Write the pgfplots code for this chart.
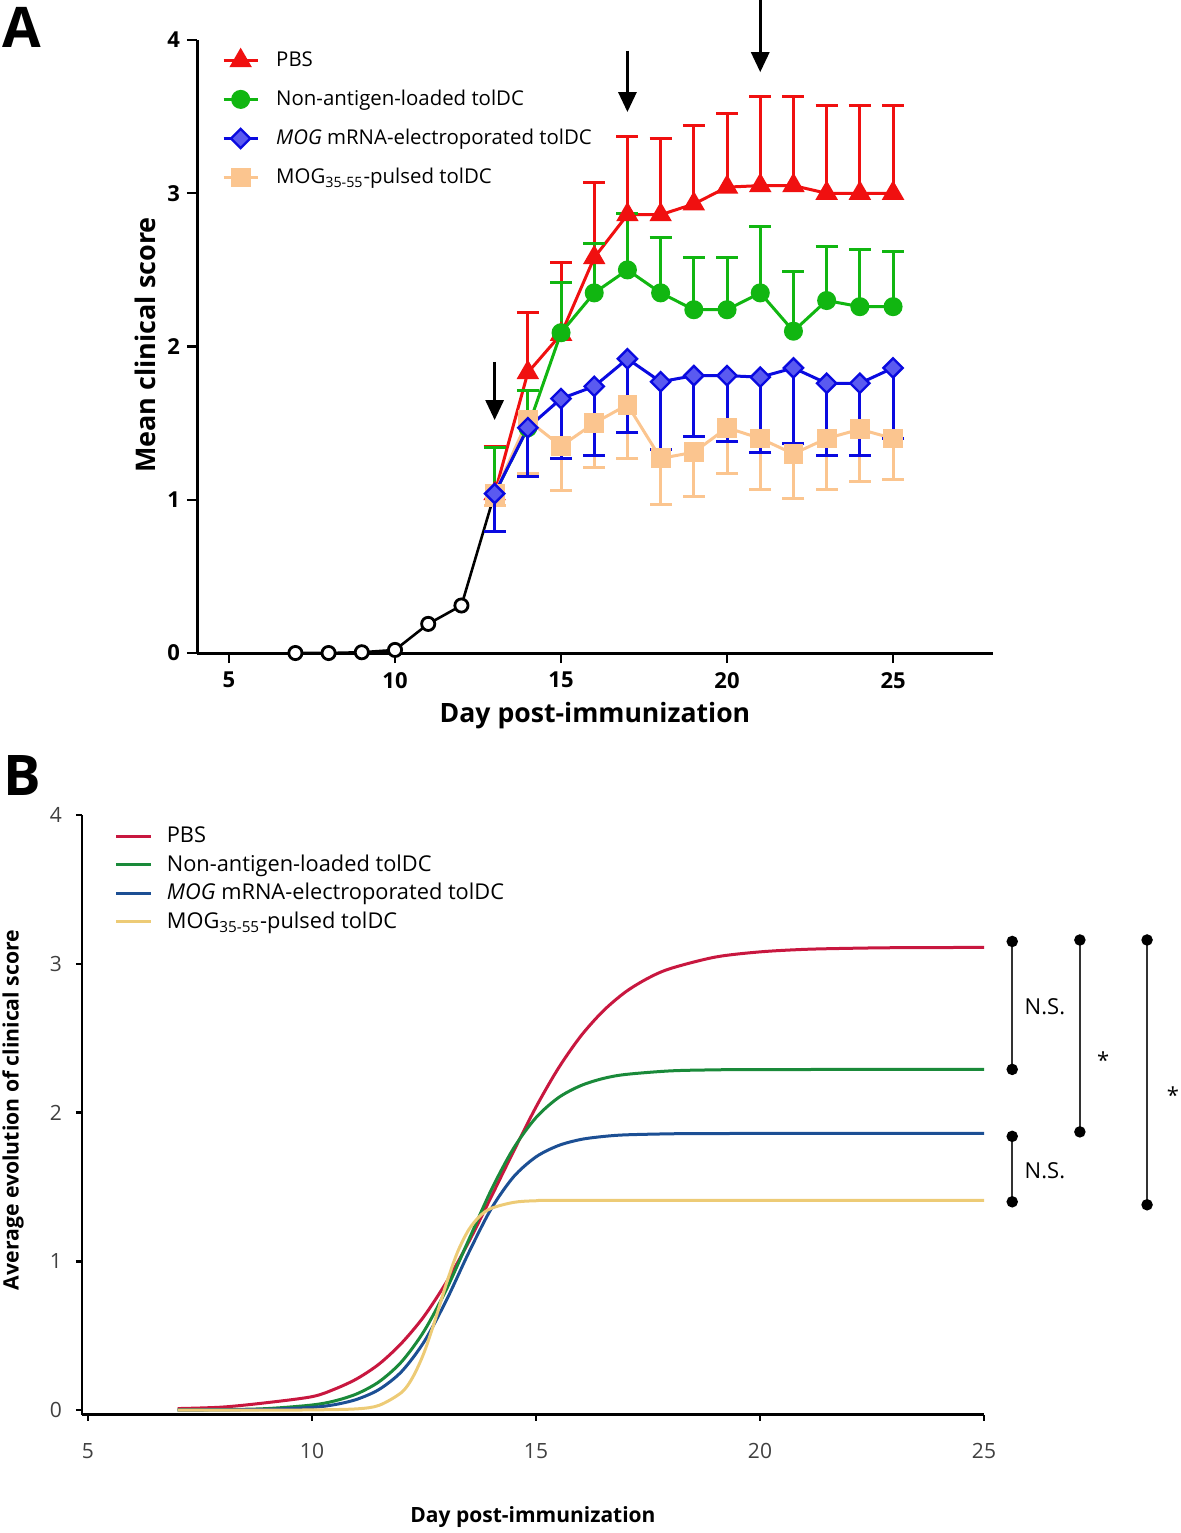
\documentclass[border=0pt]{standalone}
\usepackage{pgfplots}
\pgfplotsset{compat=1.18}
\usepackage{fontspec}
\setmainfont{Open Sans}
\usetikzlibrary{arrows.meta}
\definecolor{Ared}{HTML}{F01010}
\definecolor{Agreen}{HTML}{11B611}
\definecolor{Ablue}{HTML}{0A0AE0}
\definecolor{AblueL}{HTML}{5A5AF0}
\definecolor{Aorange}{HTML}{FBC58F}
\definecolor{Bred}{HTML}{C8173F}
\definecolor{Bgreen}{HTML}{1A8A3A}
\definecolor{Bblue}{HTML}{1C4F94}
\definecolor{Byellow}{HTML}{EDCB76}
\begin{document}
\begin{tikzpicture}
\useasboundingbox (0,0) rectangle (590.5pt,-766.5pt);
% ---------------- Panel A ----------------
\node[font=\bfseries\fontsize{28}{30}\selectfont] at (11pt,-13.5pt) {A};
\begin{axis}[
  at={(98.5pt,-326.5pt)}, anchor=south west,
  scale only axis, width=398pt, height=306.5pt,
  xmin=4.036, xmax=28.01, ymin=0, ymax=4,
  axis lines=left, axis line style={-, line width=1.5pt},
  xtick={5,10,15,20,25}, ytick={0,1,2,3,4},
  tick align=outside, major tick length=5pt,
  tick style={line width=1.2pt, black},
  /pgf/number format/assume math mode=true,
  ticklabel style={font=\bfseries\fontsize{11}{12}\selectfont},
  xticklabel style={yshift=-1pt},
  clip=false,
  legend cell align=left,
  legend style={at={(0.031,0.988)}, anchor=north west, draw=none, fill=none,
    font=\fontsize{10.2}{11}\selectfont, row sep=6.3pt, inner sep=0pt,
    /tikz/every odd column/.append style={column sep=6.5pt}},
]
\addlegendimage{Ared, line width=1.5pt, mark=triangle*, mark size=5pt}
\addlegendentry{PBS}
\addlegendimage{Agreen, line width=1.5pt, mark=*, mark size=4pt}
\addlegendentry{Non-antigen-loaded tolDC}
\addlegendimage{Ablue, line width=1.5pt, mark=square*, mark size=3.4pt, mark options={rotate=45, fill=AblueL, draw=Ablue, line width=1.2pt}}
\addlegendentry{\textit{MOG} mRNA-electroporated tolDC}
\addlegendimage{Aorange, line width=1.5pt, mark=square*, mark size=4.2pt}
\addlegendentry{MOG\textsubscript{35-55}-pulsed tolDC}
% baseline (before treatment)
\addplot[black, line width=1.3pt, mark=*, mark size=3.3pt, mark options={fill=white, draw=black, line width=1.4pt}, forget plot]
 coordinates {(7,0) (8,0) (9,0.005) (10,0.02) (11,0.19) (12,0.31) (13,1.04)};
% PBS
\addplot[Ared, line width=1.5pt, mark=triangle*, mark size=5pt, forget plot,
  error bars/.cd, y dir=plus, y explicit,
  error bar style={line width=1.5pt}, error mark options={rotate=90, line width=1.5pt, mark size=5.5pt}]
 coordinates {
 (13,1.04) +- (0,0.31)
 (14,1.83) +- (0,0.39)
 (15,2.08) +- (0,0.47)
 (16,2.58) +- (0,0.49)
 (17,2.86) +- (0,0.51)
 (18,2.86) +- (0,0.50)
 (19,2.93) +- (0,0.51)
 (20,3.04) +- (0,0.48)
 (21,3.05) +- (0,0.58)
 (22,3.05) +- (0,0.58)
 (23,3.00) +- (0,0.57)
 (24,3.00) +- (0,0.57)
 (25,3.00) +- (0,0.57)};
% Non-antigen-loaded
\addplot[Agreen, line width=1.5pt, mark=*, mark size=4pt, forget plot,
  error bars/.cd, y dir=plus, y explicit,
  error bar style={line width=1.5pt}, error mark options={rotate=90, line width=1.5pt, mark size=5.5pt}]
 coordinates {
 (13,1.04) +- (0,0.30)
 (14,1.47) +- (0,0.24)
 (15,2.09) +- (0,0.33)
 (16,2.35) +- (0,0.32)
 (17,2.50) +- (0,0.37)
 (18,2.35) +- (0,0.36)
 (19,2.24) +- (0,0.34)
 (20,2.24) +- (0,0.34)
 (21,2.35) +- (0,0.43)
 (22,2.10) +- (0,0.39)
 (23,2.30) +- (0,0.35)
 (24,2.26) +- (0,0.37)
 (25,2.26) +- (0,0.36)};
% MOG35-55 pulsed
\addplot[Aorange, line width=1.5pt, mark=square*, mark size=4.2pt, forget plot,
  error bars/.cd, y dir=minus, y explicit,
  error bar style={line width=1.5pt}, error mark options={rotate=90, line width=1.5pt, mark size=5.5pt}]
 coordinates {
 (13,1.04) +- (0,0.08)
 (14,1.52) +- (0,0.35)
 (15,1.35) +- (0,0.29)
 (16,1.50) +- (0,0.29)
 (17,1.62) +- (0,0.35)
 (18,1.27) +- (0,0.30)
 (19,1.31) +- (0,0.29)
 (20,1.47) +- (0,0.30)
 (21,1.40) +- (0,0.33)
 (22,1.30) +- (0,0.29)
 (23,1.40) +- (0,0.33)
 (24,1.46) +- (0,0.34)
 (25,1.40) +- (0,0.27)};
% MOG mRNA
\addplot[Ablue, line width=1.5pt, mark=square*, mark size=3.4pt, mark options={rotate=45, fill=AblueL, draw=Ablue, line width=1.2pt}, forget plot,
  error bars/.cd, y dir=minus, y explicit,
  error bar style={line width=1.5pt}, error mark options={rotate=90, line width=1.5pt, mark size=5.5pt}]
 coordinates {
 (13,1.04) +- (0,0.25)
 (14,1.47) +- (0,0.32)
 (15,1.66) +- (0,0.39)
 (16,1.74) +- (0,0.45)
 (17,1.92) +- (0,0.48)
 (18,1.77) +- (0,0.44)
 (19,1.81) +- (0,0.40)
 (20,1.81) +- (0,0.43)
 (21,1.80) +- (0,0.49)
 (22,1.86) +- (0,0.49)
 (23,1.76) +- (0,0.47)
 (24,1.76) +- (0,0.47)
 (25,1.86) +- (0,0.46)};
% arrows (treatment days)
\draw[line width=1.5pt, -{Triangle[width=9pt,length=10pt]}] (axis cs:13,1.90) -- (axis cs:13,1.52);
\draw[line width=1.5pt, -{Triangle[width=9pt,length=10pt]}] (axis cs:17,3.93) -- (axis cs:17,3.53);
\draw[line width=1.5pt, -{Triangle[width=9pt,length=10pt]}] (axis cs:21,4.30) -- (axis cs:21,3.79);
\end{axis}
\node[font=\bfseries\fontsize{13.3}{15}\selectfont] at (297.5pt,-358pt) {Day post-immunization};
\node[font=\bfseries\fontsize{13.5}{15}\selectfont, rotate=90] at (72.5pt,-172.5pt) {Mean clinical score};
% ---------------- Panel B ----------------
\node[font=\bfseries\fontsize{28}{30}\selectfont] at (11pt,-387.5pt) {B};
\begin{axis}[
  at={(41pt,-707.25pt)}, anchor=south west,
  scale only axis, width=451pt, height=299.75pt,
  xmin=4.866, xmax=25, ymin=-0.03, ymax=4,
  axis lines=left, axis line style={-, line width=1.4pt},
  xtick={5,10,15,20,25}, ytick={0,1,2,3,4},
  tick align=outside, major tick length=3pt,
  tick style={line width=1.2pt, black},
  /pgf/number format/assume math mode=true,
  ticklabel style={font=\fontsize{10.5}{12}\selectfont, text=black!75},
  xticklabel style={yshift=-8pt},
  yticklabel style={xshift=-3.5pt},
  clip=false,
  legend cell align=left,
  legend style={at={(0.036,0.988)}, anchor=north west, draw=none, fill=none,
    font=\fontsize{10.9}{12}\selectfont, row sep=0.6pt, inner sep=0pt,
    /tikz/every odd column/.append style={column sep=5pt}},
  legend image code/.code={\draw[line width=1.5pt] (0pt,0pt) -- (17.5pt,0pt);},
  every axis plot/.append style={line width=1.5pt},
]
\addplot[Bred, smooth] coordinates {
 (7,0.01) (8,0.02) (9,0.05) (10,0.09) (10.5,0.14) (11,0.21) (11.5,0.31)
 (12,0.45) (12.5,0.63) (13,0.86) (13.5,1.131) (14,1.433) (14.5,1.740)
 (15,2.037) (15.5,2.298) (16,2.514) (16.5,2.683) (17,2.811) (17.5,2.903)
 (18,2.968) (19,3.045) (20,3.080) (21,3.097) (22,3.104) (23,3.108) (25,3.11)};
\addlegendentry{PBS}
\addplot[Bgreen, smooth] coordinates {
 (7,0.001) (8,0.003) (9,0.010) (10,0.034) (10.5,0.061) (11,0.109) (11.5,0.191)
 (12,0.325) (12.5,0.530) (13,0.811) (13.5,1.145) (14,1.479) (14.5,1.760)
 (15,1.966) (15.5,2.100) (16,2.181) (16.5,2.229) (17,2.256) (18,2.280)
 (19,2.287) (20,2.289) (25,2.29)};
\addlegendentry{Non-antigen-loaded tolDC}
\addplot[Bblue, smooth] coordinates {
 (7,0.000) (8,0.001) (9,0.005) (10,0.018) (10.5,0.036) (11,0.072) (11.5,0.139)
 (12,0.259) (12.5,0.458) (13,0.738) (13.5,1.059) (14,1.353) (14.5,1.568)
 (15,1.702) (15.5,1.778) (16,1.819) (16.5,1.839) (17,1.850) (18,1.857)
 (19,1.859) (25,1.86)};
\addlegendentry{\textit{MOG} mRNA-electroporated tolDC}
\addplot[Byellow, smooth] coordinates {
 (7,0.000) (9,0.000) (10,0.001) (11,0.008) (11.5,0.032) (12,0.119)
 (12.25,0.221) (12.5,0.385) (12.75,0.607) (13,0.851) (13.25,1.063)
 (13.5,1.213) (13.75,1.305) (14,1.356) (14.5,1.396) (15,1.407) (16,1.41) (25,1.41)};
\addlegendentry{MOG\textsubscript{35-55}-pulsed tolDC}
% significance brackets
\addplot[black!80, line width=0.9pt, mark=*, mark size=2.4pt, mark options={fill=black, draw=black}, forget plot] coordinates {(25.63,3.15) (25.63,2.29)};
\addplot[black!80, line width=0.9pt, mark=*, mark size=2.4pt, mark options={fill=black, draw=black}, forget plot] coordinates {(25.63,1.84) (25.63,1.40)};
\addplot[black!80, line width=0.9pt, mark=*, mark size=2.4pt, mark options={fill=black, draw=black}, forget plot] coordinates {(27.14,3.16) (27.14,1.87)};
\addplot[black!80, line width=0.9pt, mark=*, mark size=2.4pt, mark options={fill=black, draw=black}, forget plot] coordinates {(28.64,3.16) (28.64,1.38)};
\node[font=\fontsize{11}{12}\selectfont] at (axis cs:26.36,2.71) {N.S.};
\node[font=\fontsize{11}{12}\selectfont] at (axis cs:26.36,1.61) {N.S.};
\node[font=\fontsize{11}{12}\selectfont] at (axis cs:27.66,2.35) {*};
\node[font=\fontsize{11}{12}\selectfont] at (axis cs:29.22,2.12) {*};
\end{axis}
\node[font=\bfseries\fontsize{10.5}{12}\selectfont] at (266.5pt,-758.5pt) {Day post-immunization};
\node[font=\bfseries\fontsize{10.6}{12}\selectfont, rotate=90] at (6.5pt,-555pt) {Average evolution of clinical score};
\end{tikzpicture}
\end{document}
